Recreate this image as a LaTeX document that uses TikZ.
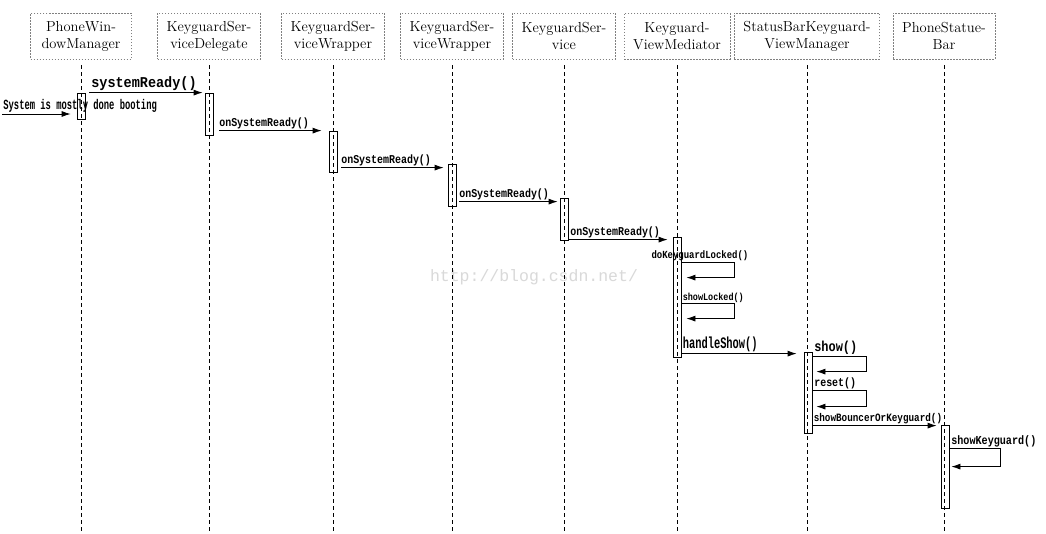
\documentclass[tikz,border=0pt]{standalone}
\usepackage{fontspec}
\usepackage{graphicx}
\newfontfamily\monofont{Liberation Mono}
\usetikzlibrary{arrows.meta,positioning}

\newcommand{\lblsize}[1]{\monofont\bfseries\fontsize{#1}{#1}\selectfont}
\newcommand{\cnd}[1]{\scalebox{0.83}[1]{#1}}

\tikzset{
  actor/.style={draw=gray, dash pattern=on 1.5pt off 1.5pt, minimum width=101pt,
    minimum height=46pt, inner xsep=9pt, align=center, font=\fontsize{14.5}{17}\selectfont},
  lifeline/.style={dash pattern=on 4pt off 3pt, line width=0.8pt},
  act/.style={draw, line width=0.8pt, minimum width=8pt, inner sep=0pt},
  msg/.style={-{Latex[length=9pt,width=6pt]}, line width=0.8pt},
  lbl/.style={inner sep=1.5pt, font=\lblsize{12}},
}

\begin{document}
\begin{tikzpicture}[x=1pt, y=-1pt]
  \useasboundingbox[fill=white] (0,0) rectangle (1046,533);
  \coordinate (bottom) at (0,533);

  \node[text=gray!30, font=\monofont\fontsize{16.5}{16.5}\selectfont] (wm) at (534,277) {http://blog.csdn.net/};

  % objects
  \node[actor] (pwm)   at (81,36)  {PhoneWin-\\dowManager};
  \node[actor] (ksd)   at (209,36) {KeyguardSer-\\viceDelegate};
  \node[actor] (ksw1)  at (333,36) {KeyguardSer-\\viceWrapper};
  \node[actor] (ksw2)  at (452,36) {KeyguardSer-\\viceWrapper};
  \node[actor] (ks)    at (564,36) {KeyguardSer-\\vice};
  \node[actor] (kvm)   at (677,36) {Keyguard-\\ViewMediator};
  \node[actor] (sbkvm) at (807,36) {StatusBarKeyguard-\\ViewManager};
  \node[actor] (psb)   at (944,36) {PhoneStatue-\\Bar};

  \foreach \obj in {pwm,ksd,ksw1,ksw2,ks,kvm,sbkvm,psb}
    \draw[lifeline] ([yshift=-6pt]\obj.south) -- (\obj.south |- bottom);

  % activations
  \node[act, minimum height=26pt]  (a1) at (81,106)  {};
  \node[act, minimum height=42pt]  (a2) at (209,114) {};
  \node[act, minimum height=41pt]  (a3) at (333,151.5) {};
  \node[act, minimum height=42pt]  (a4) at (452,185) {};
  \node[act, minimum height=42pt]  (a5) at (564,219) {};
  \node[act, minimum height=120pt] (a6) at (677,297) {};
  \node[act, minimum height=81pt]  (a7) at (808,392.5) {};
  \node[act, minimum height=83pt]  (a8) at (945,466.5) {};

  % message ends
  \coordinate (boot) at (2,114);
  \coordinate[below=4pt of a4.north west] (in4);
  \coordinate[below=4pt of a5.north west] (in5);
  \coordinate[below=3pt of a6.north west] (in6);
  \coordinate[below=2pt of a7.north west] (in7);
  \coordinate[below=1pt of a8.north west] (in8);

  \draw[msg, shorten >=6pt] (boot) -- node[lbl, pos=0, anchor=south west, inner sep=1pt, font=\lblsize{14}]
    {\scalebox{0.63}[1]{System is mostly done booting}} (boot -| a1.west);
  \draw[msg, shorten <=4pt, shorten >=2pt] (a1.east |- a2.north) -- node[lbl, pos=0, anchor=south west, xshift=4pt, font=\lblsize{15}]
    {\scalebox{0.9}[1]{systemReady()}} (a2.north west);
  \draw[msg, shorten <=6pt, shorten >=7pt] (a2.east |- a3.north) -- node[lbl, pos=0, anchor=south west, xshift=4pt]
    {\cnd{onSystemReady()}} (a3.north west);
  \draw[msg, shorten <=4pt, shorten >=4pt] (a3.east |- in4) -- node[lbl, pos=0, anchor=south west, xshift=2pt]
    {\cnd{onSystemReady()}} (in4);
  \draw[msg, shorten <=3pt, shorten >=2pt] (a4.east |- in5) -- node[lbl, pos=0, anchor=south west, xshift=1pt]
    {\cnd{onSystemReady()}} (in5);
  \draw[msg, shorten >=5pt] (a5.east |- in6) -- node[lbl, pos=0, anchor=south west]
    {\cnd{onSystemReady()}} (in6);
  \draw[msg, shorten >=7pt] (a6.east |- in7) -- node[lbl, pos=0, anchor=south west, inner sep=1pt, font=\lblsize{16}]
    {\scalebox{0.65}[1]{handleShow()}} (in7);
  \draw[msg, shorten >=4pt] (a7.east |- in8) -- node[lbl, pos=0, anchor=south west, inner sep=1pt, font=\lblsize{11.2}]
    {\cnd{showBouncerOrKeyguard()}} (in8);

  % self calls
  \coordinate[below=26pt of a6.north east] (dkl);
  \coordinate[below=67pt of a6.north east] (shl);
  \coordinate[below=5pt of a7.north east]  (shw);
  \coordinate[below=39pt of a7.north east] (rst);
  \coordinate[below=24pt of a8.north east] (shk);

  \draw[msg] (dkl) -- node[lbl, pos=0.35, anchor=south, font=\lblsize{10.8}] {\cnd{doKeyguardLocked()}}
    ++(53,0) -- ++(0,15) -- ++(-48,0);
  \draw[msg] (shl) -- node[lbl, pos=0, anchor=south west, inner sep=1pt, font=\lblsize{10.2}] {\cnd{showLocked()}}
    ++(53,0) -- ++(0,15) -- ++(-48,0);
  \draw[msg] (shw) -- node[lbl, pos=0, anchor=south west, font=\lblsize{14.4}] {\cnd{show()}}
    ++(54,0) -- ++(0,15) -- ++(-50,0);
  \draw[msg] (rst) -- node[lbl, pos=0, anchor=south west] {\cnd{reset()}}
    ++(54,0) -- ++(0,16) -- ++(-50,0);
  \draw[msg] (shk) -- node[lbl, pos=0, anchor=south west, font=\lblsize{12.2}] {\cnd{showKeyguard()}}
    ++(51,0) -- ++(0,18) -- ++(-49,0);
\end{tikzpicture}
\end{document}
